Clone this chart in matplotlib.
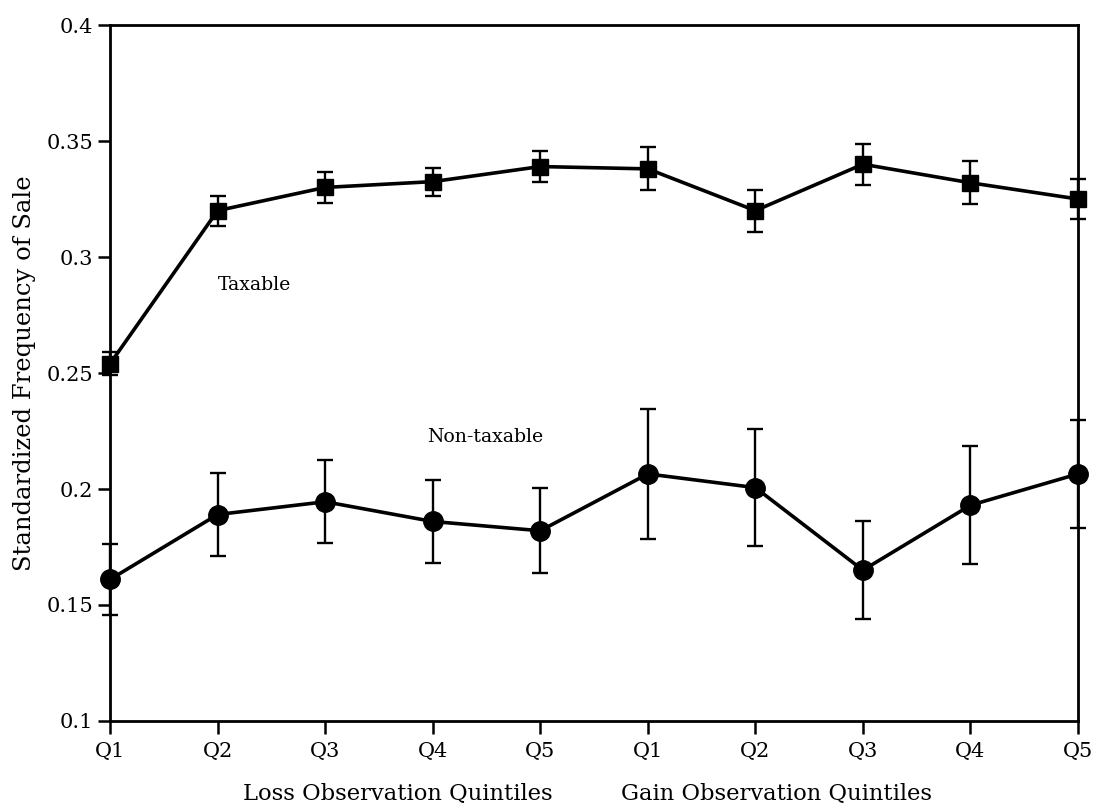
import matplotlib.pyplot as plt
import numpy as np

plt.rcParams['font.family'] = ['DejaVu Serif']

# Quintile labels (loss quintiles then gain quintiles)
tick_labels = ['Q1', 'Q2', 'Q3', 'Q4', 'Q5', 'Q1', 'Q2', 'Q3', 'Q4', 'Q5']

# Standardized frequency of sale
taxable = [0.254, 0.320, 0.330, 0.3325, 0.339, 0.338, 0.320, 0.340, 0.332, 0.325]
taxable_err = [0.005, 0.0065, 0.0065, 0.006, 0.0065, 0.0093, 0.009, 0.0088, 0.0093, 0.0085]

nontaxable = [0.161, 0.189, 0.1945, 0.186, 0.182, 0.2065, 0.2006, 0.165, 0.193, 0.2065]
nontaxable_err = [0.0155, 0.0177, 0.0178, 0.0177, 0.0184, 0.028, 0.0253, 0.021, 0.0254, 0.0234]

x = np.arange(len(tick_labels))

fig = plt.figure(figsize=(10.96, 8.08), dpi=100)
ax = fig.add_axes([0.1004, 0.1077, 0.8832, 0.8613])

ax.errorbar(x, taxable, yerr=taxable_err, color='black', lw=2.6, marker='s',
            markersize=12, elinewidth=1.7, capsize=5.5, capthick=1.7, clip_on=False)
ax.errorbar(x, nontaxable, yerr=nontaxable_err, color='black', lw=2.6, marker='o',
            markersize=14, elinewidth=1.7, capsize=5.5, capthick=1.7, clip_on=False)

ax.set_xlim(0, 9)
ax.set_ylim(0.1, 0.4)
ax.set_yticks([0.1, 0.15, 0.2, 0.25, 0.3, 0.35, 0.4])
ax.set_yticklabels(['0.1', '0.15', '0.2', '0.25', '0.3', '0.35', '0.4'])
ax.set_xticks(x)
ax.set_xticklabels(tick_labels)
ax.tick_params(direction='out', length=9, width=1.8, labelsize=15)
ax.tick_params(axis='x', pad=6)
ax.tick_params(axis='y', pad=3)

for s in ax.spines.values():
    s.set_linewidth(2)

ax.text(1.0, 0.288, 'Taxable', fontsize=13.6, va='center', ha='left')
ax.text(2.95, 0.2224, 'Non-taxable', fontsize=13.6, va='center', ha='left')

ax.text(2.68, -0.105, 'Loss Observation Quintiles', fontsize=16.3, ha='center',
        va='center', transform=ax.get_xaxis_transform())
ax.text(6.2, -0.105, 'Gain Observation Quintiles', fontsize=16.3, ha='center',
        va='center', transform=ax.get_xaxis_transform())

ax.set_ylabel('Standardized Frequency of Sale', fontsize=17.5, labelpad=8)

fig.savefig('out.png', dpi=100)
